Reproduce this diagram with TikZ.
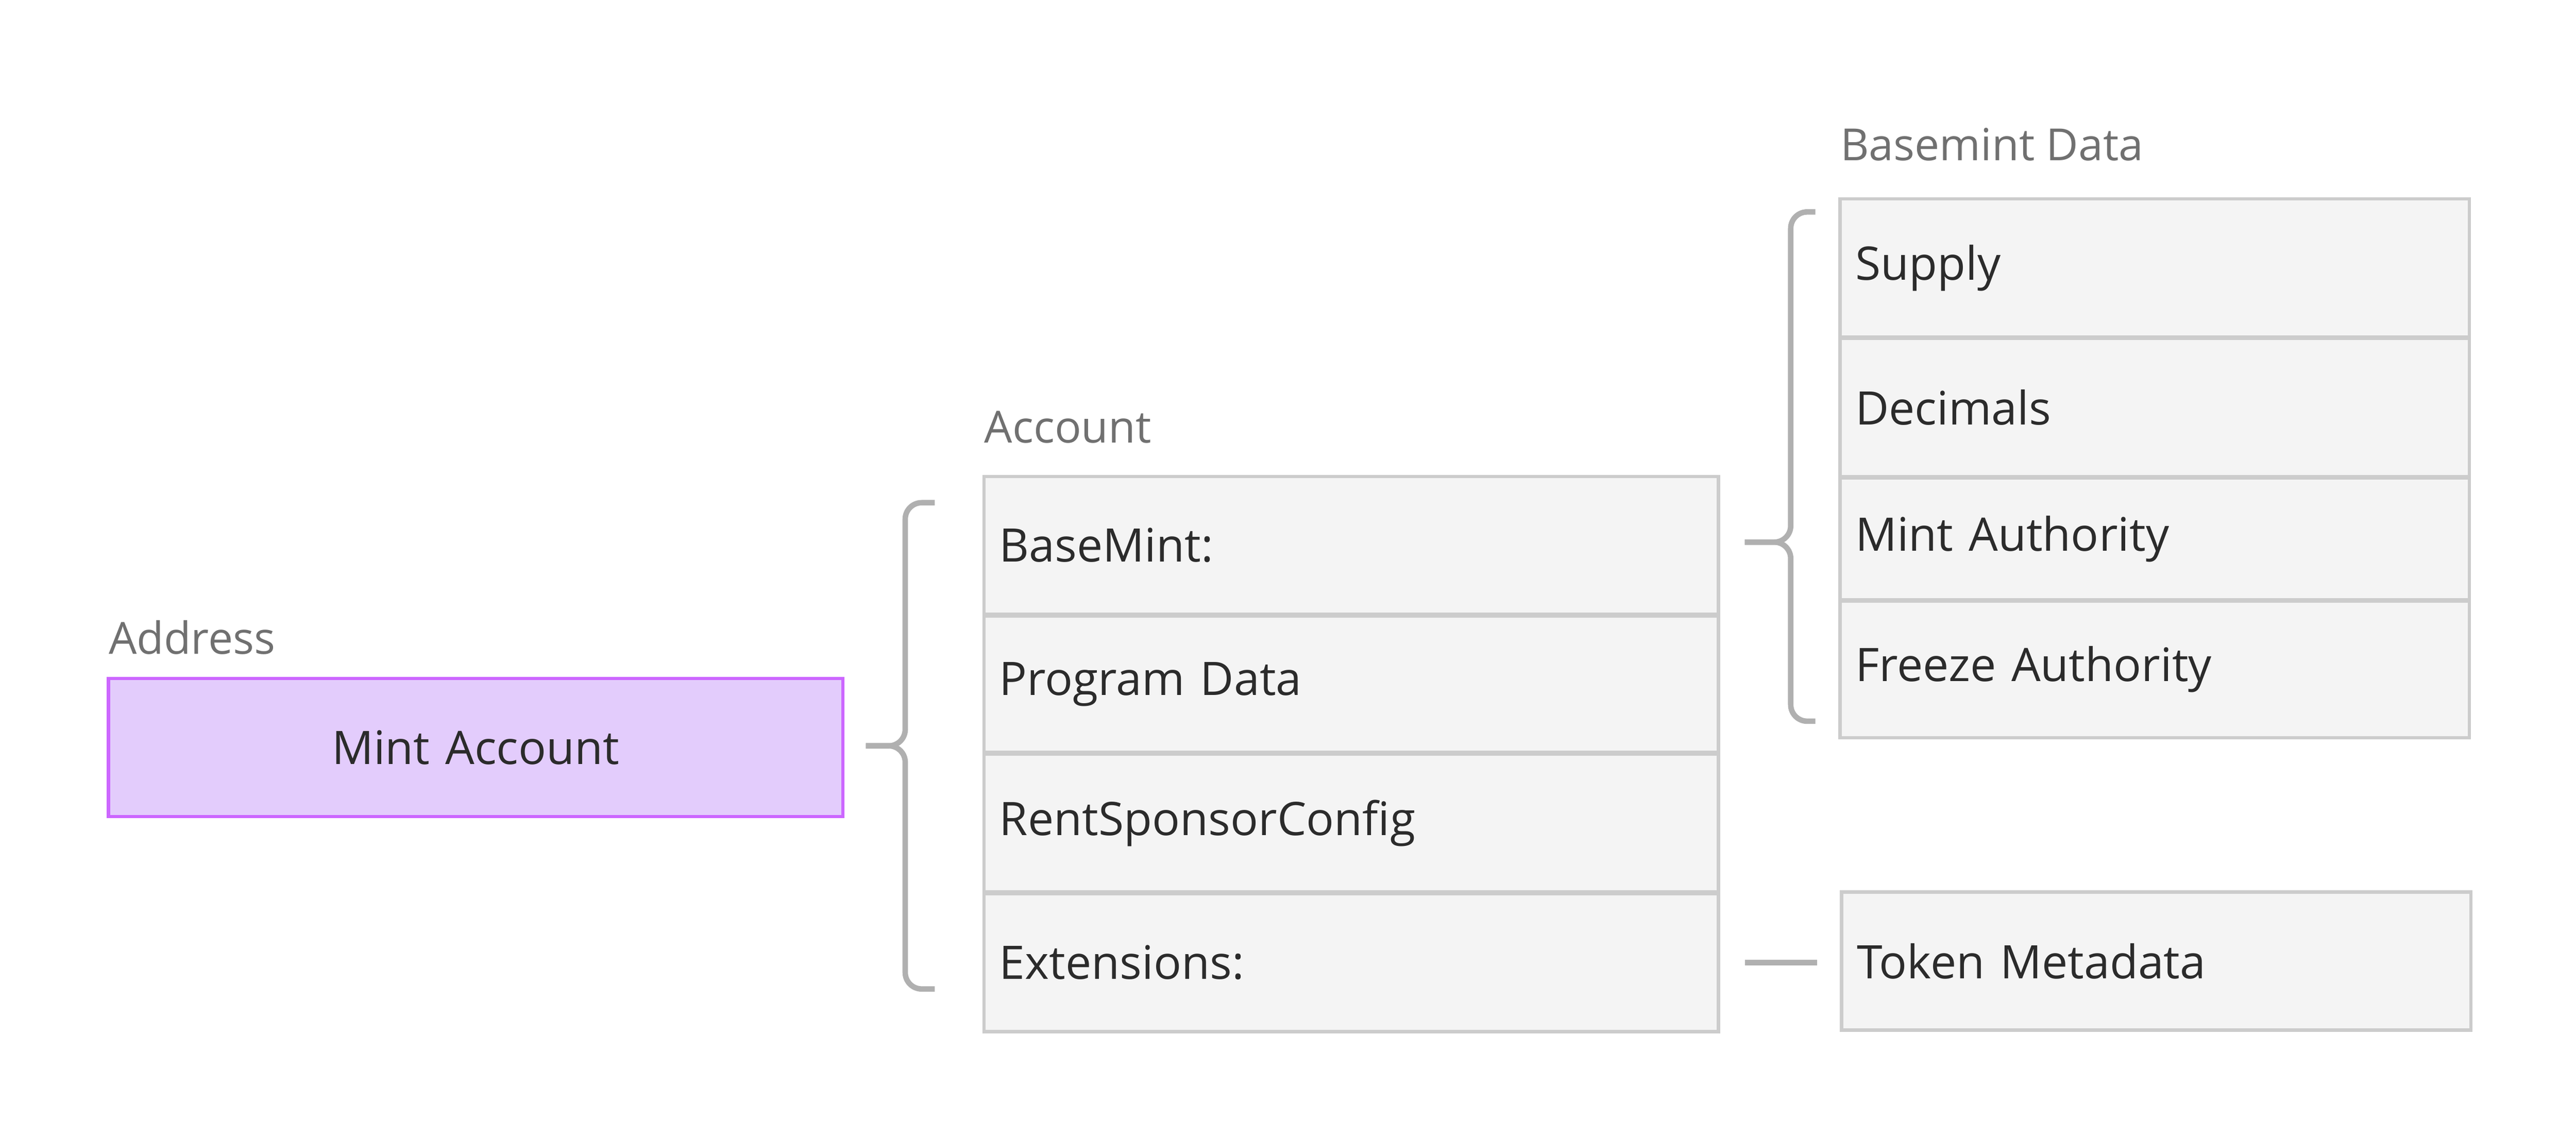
\documentclass[tikz,border=0pt]{standalone}
\usepackage{fontspec}
\setmainfont{Open Sans}
\tikzset{
	cell/.style={draw=boxline, fill=boxfill, line width=0.06cm, anchor=north west,
		inner xsep=0.28cm, align=left, text=ink, font=\fontsize{24}{28}\selectfont},
	title/.style={anchor=west, text=capt, inner sep=0pt, font=\fontsize{23}{27}\selectfont},
	brace/.style={draw=bracecol, line width=0.1cm, rounded corners=0.3cm},
}
\definecolor{boxline}{HTML}{CCCCCC}
\definecolor{boxfill}{HTML}{F4F4F4}
\definecolor{ink}{HTML}{2B2B2B}
\definecolor{capt}{HTML}{707070}
\definecolor{bracecol}{HTML}{B0B0B0}
\definecolor{mintfill}{HTML}{E3CCFC}
\definecolor{mintline}{HTML}{CC66FF}
\begin{document}
\begin{tikzpicture}[x=0.03cm,y=-0.03cm]
	\useasboundingbox (0,0) rectangle (1568,692);
	
	%%Address
	\node[title] (addr) at (66,388) {Address};
	\node[cell, draw=mintline, fill=mintfill, minimum width=13.41cm, minimum height=2.52cm,
		align=center, text width=12.8cm] (mint) at (65,412) {Mint Account};
	
	%%Account
	\node[title] (acc) at (599,260) {Account};
	\node[cell, minimum width=13.41cm, minimum height=2.52cm, text width=12.85cm] (base) at (598,289) {BaseMint:};
	\node[cell, minimum width=13.41cm, minimum height=2.49cm, text width=12.85cm] (prog) at (598,374) {Program Data};
	\node[cell, minimum width=13.41cm, minimum height=2.52cm, text width=12.85cm] (rent) at (598,458) {RentSponsorConfig};
	\node[cell, minimum width=13.41cm, minimum height=2.52cm, text width=12.85cm] (ext) at (598,543) {Extensions:};
	
	%%Basemint Data
	\node[title] (bmd) at (1120,88) {Basemint Data};
	\node[cell, minimum width=11.49cm, minimum height=2.52cm, text width=10.93cm] (sup) at (1119,120) {Supply};
	\node[cell, minimum width=11.49cm, minimum height=2.52cm, text width=10.93cm] (dec) at (1119,205) {Decimals};
	\node[cell, minimum width=11.49cm, minimum height=2.22cm, text width=10.93cm] (auth) at (1119,290) {Mint Authority};
	\node[cell, minimum width=11.49cm, minimum height=2.49cm, text width=10.93cm] (frz) at (1119,365) {Freeze Authority};
	
	\node[cell, minimum width=11.49cm, minimum height=2.52cm, text width=10.93cm] (meta) at (1120,542) {Token Metadata};
	
	%%Braces
	\coordinate (b1) at (527,454);
	\coordinate (b2) at (1062,330);
	\draw[brace] (569,306) -- (551,306) -- (551,454) -- (b1);
	\draw[brace] (569,602) -- (551,602) -- (551,454) -- (b1);
	\draw[brace] (1105,129) -- (1090,129) -- (1090,330) -- (b2);
	\draw[brace] (1105,439) -- (1090,439) -- (1090,330) -- (b2);
	
	%%Link
	\coordinate (l1) at (1062,586);
	\coordinate (l2) at (1106,586);
	\draw[draw=bracecol, line width=0.1cm] (l1) -- (l2);
\end{tikzpicture}
\end{document}
